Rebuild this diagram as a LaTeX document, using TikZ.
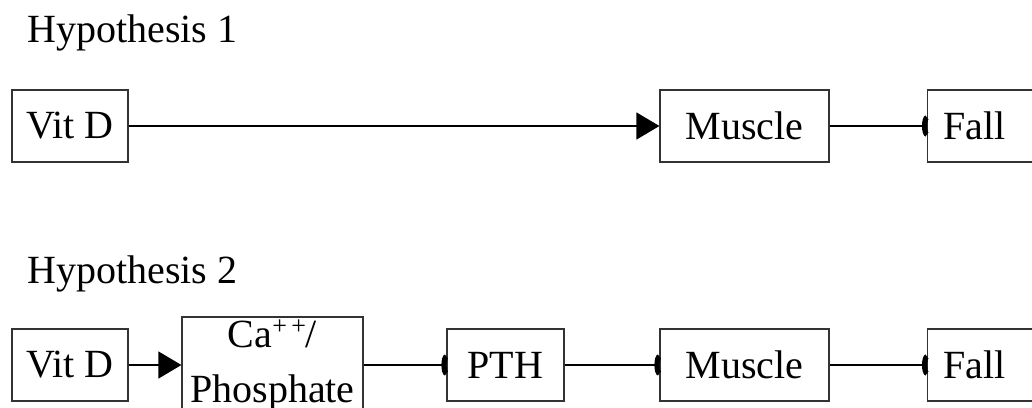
\documentclass[tikz,border=0pt]{standalone}
\usepackage{fontspec}
\setmainfont{Liberation Serif}
\usetikzlibrary{arrows.meta}
\newcommand{\supplus}{\raisebox{6.5pt}{\fontsize{13}{13}\selectfont+\,+}}
\tikzset{
  box/.style={draw=black!80, line width=0.6pt, rectangle, inner sep=0pt, minimum height=36pt, font=\fontsize{20}{27.5}\selectfont},
  lbl/.style={anchor=base west, inner sep=0pt, font=\fontsize{20}{24}\selectfont},
  conn/.style={draw=black, line width=0.6pt},
  act/.style={conn, -{Triangle[length=11.5pt,width=13.5pt]}},
  inh/.style={conn, -{Arc Barb[reversed,length=2.5pt,width=11pt,line width=2.6pt]}}
}
\begin{document}
\begin{tikzpicture}[x=0.5pt,y=-0.5pt]
\useasboundingbox (0,0) rectangle (1032,407);
\clip (0,0) rectangle (1032,407);
% labels
\node[lbl] (h1) at (27,42) {Hypothesis 1};
\node[lbl] (h2) at (27,283) {Hypothesis 2};
% row 1
\node[box, minimum width=58pt] (v1) at (70,126) {Vit D};
\node[box, minimum width=84.5pt] (m1) at (744.5,126) {Muscle};
\node[box, anchor=west, text width=50pt, inner xsep=8pt, align=left] (f1) at (927,126) {Fall};
\draw[act] (v1) -- (m1);
\draw[inh] (m1) -- (f1);
% row 2
\node[box, minimum width=58pt] (v2) at (70,365) {Vit D};
\node[box, minimum width=90.5pt, minimum height=48pt, align=center] (c) at (272.5,365) {Ca\supplus/\\Phosphate};
\node[box, minimum width=58.5pt] (p) at (505.5,365) {PTH};
\node[box, minimum width=84.5pt] (m2) at (744.5,365) {Muscle};
\node[box, anchor=west, text width=50pt, inner xsep=8pt, align=left] (f2) at (927,365) {Fall};
\draw[act] (v2) -- (c);
\draw[inh] (c) -- (p);
\draw[inh] (p) -- (m2);
\draw[inh] (m2) -- (f2);
\end{tikzpicture}
\end{document}
